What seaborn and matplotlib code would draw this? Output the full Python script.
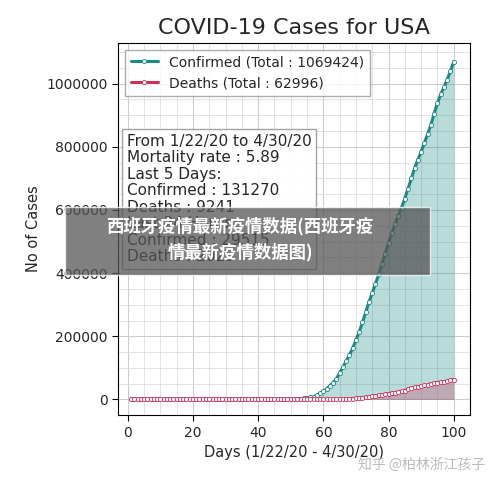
import matplotlib
matplotlib.use("Agg")
import matplotlib.pyplot as plt
import seaborn as sns
import numpy as np
import pandas as pd
from matplotlib.ticker import MultipleLocator, ScalarFormatter

confirmed = [1,1,2,2,5,5,5,6,6,8,
 8,8,11,11,11,12,12,12,12,12,13,13,14,14,14,14,14,14,14,14,16,16,16,51,51,57,58,60,68,
 74,98,118,149,217,262,402,518,583,959,1281,1663,2179,2727,3499,4632,6421,7783,13747,19273,25600,33276,43843,53736,65778,83836,101657,121478,140886,161807,188172,
 213372,243762,275586,308853,337072,366667,396223,429052,461437,496535,526396,555313,580619,607670,636350,667592,699706,732197,759086,784326,811865,840351,869170,905358,938154,965785,988197,1012582,1039909,1069424]
deaths = [0]*38 + [1,
 1,6,7,11,12,14,17,21,22,28,36,40,47,54,63,85,108,118,200,244,307,427,552,706,942,1209,1581,2026,2467,2978,3873,
 4757,5926,7087,8407,9619,10783,12722,14695,16478,18586,20463,22020,23529,25832,28325,32916,36773,38664,40661,42094,44444,46622,49954,51949,53755,54881,56259,58355,60967,62996]
days = list(range(1, len(confirmed)+1))
df = pd.DataFrame({"day": days, "confirmed": confirmed, "deaths": deaths})

sns.set_style("whitegrid")
plt.rcParams['font.family'] = ['DejaVu Sans', 'Noto Sans CJK SC']
fig = plt.figure(figsize=(5, 4.84), dpi=100)
ax = fig.add_axes([0.236, 0.142, 0.704, 0.77])
teal, red = "#1a8a86", "#c8325a"
for col, c, lab in [("confirmed", teal, f"Confirmed (Total : {confirmed[-1]})"),
                    ("deaths", red, f"Deaths (Total : {deaths[-1]})")]:
    sns.lineplot(data=df, x="day", y=col, ax=ax, color=c, lw=2.2, marker="o",
                 markersize=3, markerfacecolor="white", markeredgecolor=c,
                 markeredgewidth=0.6, label=lab)
ax.fill_between(days, confirmed, color=teal, alpha=0.3, lw=0)
ax.fill_between(days, deaths, color=red, alpha=0.3, lw=0)
ax.set_xlim(-3, 105)
ax.set_ylim(-50000, 1130000)
ax.xaxis.set_major_locator(MultipleLocator(20))
ax.xaxis.set_minor_locator(MultipleLocator(5))
ax.yaxis.set_major_locator(MultipleLocator(200000))
ax.yaxis.set_minor_locator(MultipleLocator(50000))
fmt = ScalarFormatter(); fmt.set_scientific(False); fmt.set_useOffset(False)
ax.yaxis.set_major_formatter(fmt)
ax.grid(which="major", color="#cccccc", lw=0.8)
ax.grid(which="minor", color="#dddddd", lw=0.6)
for s in ax.spines.values():
    s.set_color("black"); s.set_linewidth(0.8)
ax.tick_params(axis="both", which="major", labelsize=10, length=4, color="black", left=True, bottom=True)
ax.set_xlabel("Days (1/22/20 - 4/30/20)", fontsize=10.5)
ax.set_ylabel("No of Cases", fontsize=10.5)
ax.set_title("COVID-19 Cases for USA", fontsize=16)
ax.legend(loc="upper left", fontsize=10, frameon=True, edgecolor="#999999", fancybox=False)
txt = ("From 1/22/20 to 4/30/20\nMortality rate : 5.89\nLast 5 Days:\nConfirmed : 131270\n"
       "Deaths : 9241\nLast 24 Hours:\nConfirmed : 29515\nDeaths : 2029")
ax.text(0.025, 0.755, txt, transform=ax.transAxes, fontsize=11, va="top", linespacing=1.12,
        bbox=dict(boxstyle="square,pad=0.3", facecolor="white", edgecolor="#999999", alpha=0.9))
fig.patches.append(plt.Rectangle((0.13, 0.432), 0.73, 0.14, transform=fig.transFigure,
                                 facecolor="#555555", alpha=0.75, zorder=10))
fig.text(0.48, 0.505, "西班牙疫情最新疫情数据(西班牙疫\n情最新疫情数据图)", ha="center", va="center",
         color="white", fontsize=12.5, fontweight="bold", family=["Noto Sans CJK SC"],
         linespacing=1.5, zorder=11)
fig.text(0.97, 0.04, "知乎 @柏林浙江孩子", ha="right", va="center", color="#bbbbbb",
         fontsize=10, family=["Noto Sans CJK SC"], zorder=11)
fig.savefig("out.png", dpi=100)
